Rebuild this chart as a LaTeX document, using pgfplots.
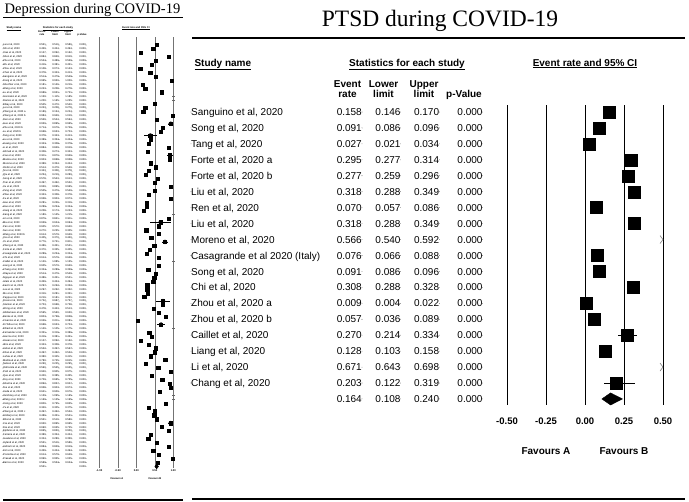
\documentclass[border=0pt]{standalone}
\usepackage{fontspec}
\setmainfont{Liberation Sans}
\newfontfamily\titlefont{Liberation Serif}
\usepackage{pgfplots}
\usepackage{pgfplotstable}
\pgfplotsset{compat=1.18}

% open chevron for studies off the right end of the scale
\pgfdeclareplotmark{chev}{%
  \pgfpathmoveto{\pgfqpoint{-3bp}{4bp}}%
  \pgfpathlineto{\pgfqpoint{0bp}{0bp}}%
  \pgfpathlineto{\pgfqpoint{-3bp}{-4bp}}%
  \pgfusepathqstroke}

\pgfplotstableread[col sep=semicolon]{
name;rate;lo;hi
Sanguino et al, 2020;0.158;0.146;0.170
Song et al, 2020;0.091;0.086;0.096
Tang et al, 2020;0.027;0.021;0.034
Forte et al, 2020 a;0.295;0.277;0.314
Forte et al,  2020 b;0.277;0.259;0.296
Liu et al,  2020;0.318;0.288;0.349
Ren et al, 2020;0.070;0.057;0.086
Liu et al, 2020;0.318;0.288;0.349
Moreno et al, 2020;0.566;0.540;0.592
Casagrande et al 2020 (Italy);0.076;0.066;0.088
Song et al, 2020;0.091;0.086;0.096
Chi et al, 2020;0.308;0.288;0.328
Zhou et al, 2020 a;0.009;0.004;0.022
Zhou et al, 2020 b;0.057;0.036;0.089
Caillet et al, 2020;0.270;0.214;0.334
Liang et al, 2020;0.128;0.103;0.158
Li et al, 2020;0.671;0.643;0.698
Chang et al, 2020;0.203;0.122;0.319
Summary;0.164;0.108;0.240
}\ptsd

\pgfplotstableread[col sep=semicolon]{
name;v
Lai et al, 2020;0.551
Shi et al, 2020;0.459
Xiao et al, 2020;0.127
Shen et al, 2020;0.884
Zhu et al, 2020;0.524
Wu et al, 2020;0.416
Zhou et al, 2020;0.108
Chen et al, 2020;0.378
Sanguino et al, 2020;0.514
Dong et al, 2020;0.965
Shechter et al, 2020;0.181
Wang et al, 2020;0.243
Lu et al, 2020;0.686
Gonzalez et al, 2020;1.150
Ramos et al, 2020;1.200
Elbay et al, 2020;0.505
Lei et al, 2020;0.243
Zhang et al, 2020 a;0.189
Zhang et al, 2020 b;0.984
Ren et al, 2020;0.559
Guo et al, 2020;0.930
Zhu et al, 2020 b;0.714
Lu et al, 2020 b;0.668
Tang et al, 2020;0.378
Liu et al, 2020;0.389
Huang et al, 2020;0.343
Li et al, 2020;0.884
Ahmed et al, 2020;0.308
Cao et al, 2020;0.911
Mazza et al, 2020;0.903
Moreno et al, 2020;0.389
Ozdin et al, 2020;0.514
Ni et al, 2020;0.343
Qiu et al, 2020;0.254
Song et al, 2020;0.578
Tian et al, 2020;0.497
Xu et al, 2020;0.930
Yang et al, 2020;0.505
Zhao et al, 2020;0.343
Fu et al, 2020;0.938
Gao et al, 2020;0.281
Hao et al, 2020;0.289
Jiang et al, 2020;0.208
Kang et al, 2020;1.180
Lin et al, 2020;0.876
Ma et al, 2020;0.659
Pan et al, 2020;0.605
Sun et al, 2020;0.270
Wang et al, 2020 b;0.614
Xie et al, 2020;0.405
Ye et al, 2020;0.776
Zheng et al, 2020;0.486
Forte et al, 2020;0.370
Casagrande et al, 2020;0.289
Chi et al, 2020;0.614
Caillet et al, 2020;1.120
Liang et al, 2020;0.605
Chang et al, 2020;0.324
Olaya et al, 2020;0.514
Nguyen et al, 2020;0.486
Islam et al, 2020;0.459
Kazmi et al, 2020;0.297
Lee et al, 2020;0.297
Mo et al, 2020;0.316
Pappa et al, 2020;0.216
Rossi et al, 2020;0.722
Stanton et al, 2020;0.703
Wong et al, 2020;0.478
Alkhamees et al, 2020;0.595
Benke et al, 2020;0.803
Civantos et al, 2020;0.046
Di Tella et al, 2020;0.668
Elhadi et al, 2020;1.140
Fernandez et al, 2020;0.351
Garcia et al, 2020;0.416
Hasan et al, 2020;0.127
Idris et al, 2020;0.343
Jahan et al, 2020;0.532
Khan et al, 2020;0.497
Lahav et al, 2020;0.380
Mahmud et al, 2020;0.780
Nelson et al, 2020;0.260
Odriozola et al, 2020;0.590
Pieh et al, 2020;0.940
Que et al, 2020;0.420
Roy et al, 2020;0.700
Sharma et al, 2020;0.892
Tee et al, 2020;0.938
Ueda et al, 2020;0.641
Varshney et al, 2020;1.130
Wang et al, 2020 c;1.160
Xiong et al, 2020;0.800
Yu et al, 2020;0.340
Zhang et al, 2020 c;0.497
Alsharji et al, 2020;0.486
Bhat et al, 2020;0.551
Cai et al, 2020;0.930
Dai et al, 2020;0.690
Epifanio et al, 2020;0.865
Ferreira et al, 2020;0.389
Gualano et al, 2020;0.324
Hyland et al, 2020;0.551
Jahrami et al, 2020;0.884
Kim et al, 2020;0.459
Pisciotta et al, 2020;0.614
Prasad et al, 2020;0.990
Barros et al, 2020;0.589
}\dep

\pgfplotsset{
  txt/.style={only marks, mark=*, mark size=0.01pt, mark options={draw=none,fill=none},
    every node near coord/.append style={inner sep=0pt, text depth=0pt}},
  bigtxt/.style={txt, every node near coord/.append style={font=\fontsize{10bp}{12bp}\selectfont, text height=7.2bp}},
  smalltxt/.style={txt, every node near coord/.append style={font=\fontsize{2.6bp}{3bp}\selectfont, text height=1.9bp}},
}
\newcommand{\hdr}{\bfseries\fontsize{10bp}{12bp}\selectfont}
\newcommand{\mini}{\fontsize{2.6bp}{3.2bp}\selectfont}

\begin{document}
\begin{tikzpicture}
\path[use as bounding box] (0,0) rectangle (689bp,-502bp);

%---------------- small panel: depression ----------------
\node[anchor=base, font=\titlefont\fontsize{14.5bp}{16bp}\selectfont] at (92.5bp,-13bp) {Depression during COVID-19};
\draw[line width=0.9bp] (3bp,-17bp) -- (183bp,-17bp);
\draw[line width=1.5bp] (3bp,-500bp) -- (183bp,-500bp);
\node[anchor=base west, font=\mini\bfseries] at (3bp,-28bp) {\underline{Study name}};
\node[anchor=base, font=\mini\bfseries] at (58bp,-28bp) {\underline{Statistics for each study}};
\node[anchor=base, font=\mini\bfseries] at (136bp,-28bp) {\underline{Event rate and 95\% CI}};
\foreach \xx/\aa/\bb in {42/Event/rate, 55/Lower/limit, 68/Upper/limit} {
  \node[anchor=base, font=\mini\bfseries] at (\xx bp,-32bp) {\aa};
  \node[anchor=base, font=\mini\bfseries] at (\xx bp,-35.5bp) {\bb};
}
\node[anchor=base, font=\mini\bfseries] at (82bp,-35.5bp) {p-Value};
\node[font=\mini\bfseries] at (117bp,-479bp) {Favours A};
\node[font=\mini\bfseries] at (155bp,-479bp) {Favours B};

\begin{axis}[
  at={(99.3bp,-468bp)}, anchor=south west,
  scale only axis, width=74bp, height=431bp,
  xmin=-1, xmax=1, ymin=-2.03, ymax=107.4, y dir=reverse,
  clip=false, axis line style={draw=none},
  ytick=\empty, xtick={-1,-0.5,0,0.5,1},
  xticklabels={-1.00,-0.50,0.00,0.50,1.00},
  xmajorgrids, grid style={black!55, line width=0.4bp},
  major tick length=0pt,
  xticklabel style={font=\mini\bfseries, anchor=north, inner sep=0pt, yshift=-1.5bp},
  /pgf/number format/assume math mode=true,
]
\addplot[smalltxt, point meta=explicit symbolic, nodes near coords={\pgfplotspointmeta},
  every node near coord/.append style={anchor=west}]
  table[x expr=-3.603, y expr=\coordindex, meta=name] {\dep};
\addplot[smalltxt, point meta=explicit symbolic, nodes near coords={\pgfplotspointmeta},
  every node near coord/.append style={anchor=east}]
  table[x expr=-2.441, y expr=\coordindex, meta=v] {\dep};
\addplot[smalltxt, point meta={\thisrow{v}-0.035},
  nodes near coords={\pgfmathprintnumber[fixed,zerofill,precision=3,assume math mode=true]{\pgfplotspointmeta}},
  every node near coord/.append style={anchor=east}]
  table[x expr=-2.089, y expr=\coordindex] {\dep};
\addplot[smalltxt, point meta={\thisrow{v}+0.035},
  nodes near coords={\pgfmathprintnumber[fixed,zerofill,precision=3,assume math mode=true]{\pgfplotspointmeta}},
  every node near coord/.append style={anchor=east}]
  table[x expr=-1.738, y expr=\coordindex] {\dep};
\addplot[smalltxt, nodes near coords={0.000},
  every node near coord/.append style={anchor=east}]
  table[x expr=-1.359, y expr=\coordindex] {\dep};
\addplot[smalltxt, point meta=explicit symbolic, nodes near coords={\pgfplotspointmeta},
  every node near coord/.append style={anchor=east}]
  coordinates {(-2.441,107) [0.551] (-1.359,107) [0.000]};
% confidence intervals that stick out of the squares
\addplot[only marks, mark=none, error bars/.cd, x dir=both, x explicit, error mark=none,
  error bar style={draw=black, line width=0.4bp}]
  coordinates {(0.930,20) +- (0.07,0) (0.378,23) +- (0.18,0) (0.911,28) +- (0.09,0)
               (0.659,45) +- (0.29,0) (0.776,50) +- (0.09,0) (0.722,65) +- (0.2,0)
               (0.668,71) +- (0.11,0) (0.930,96) +- (0.07,0)};
\addplot[only marks, mark=square*, mark size=1.6bp, black, restrict x to domain=-1:1]
  table[x=v, y expr=\coordindex] {\dep};
\addplot[only marks, mark=-, mark size=1.5bp, black!60, mark options={line width=0.4bp},
  restrict expr to domain={\thisrow{v}}{1.0001:9}]
  table[x expr=1, y expr=\coordindex] {\dep};
\addplot[fill=black, draw=black] coordinates {(0.50,107) (0.551,106.4) (0.60,107) (0.551,107.6)} -- cycle;
\end{axis}

%---------------- main panel: PTSD ----------------
\node[anchor=base, font=\titlefont\fontsize{23.5bp}{26bp}\selectfont] at (440bp,-26bp) {PTSD during COVID-19};
\draw[line width=1.5bp] (192bp,-38bp) -- (685bp,-38bp);
\draw[line width=2bp] (192bp,-499bp) -- (685bp,-499bp);
\node[anchor=base west, font=\hdr] at (191bp,-66bp) {\underline{Study name}};
\node[anchor=base, font=\hdr] at (407bp,-66bp) {\underline{Statistics for each study}};
\node[anchor=base, font=\hdr] at (585bp,-66bp) {\underline{Event rate and 95\% CI}};
\foreach \xx/\aa/\bb in {347.5/Event/rate, 383.5/Lower/limit, 424/Upper/limit} {
  \node[anchor=base, font=\hdr] at (\xx bp,-87bp) {\aa};
  \node[anchor=base, font=\hdr] at (\xx bp,-97bp) {\bb};
}
\node[anchor=base, font=\hdr] at (464bp,-97bp) {p-Value};
\node[font=\hdr] at (546bp,-451bp) {Favours A};
\node[font=\hdr] at (624bp,-451bp) {Favours B};

\begin{axis}[
  at={(507bp,-405bp)}, anchor=south west,
  scale only axis, width=156bp, height=300bp,
  xmin=-0.5, xmax=0.5, ymin=-0.44, ymax=18.38, y dir=reverse,
  clip=false, axis line style={draw=none},
  ytick=\empty, xtick={-0.5,-0.25,0,0.25,0.5},
  xticklabels={-0.50,-0.25,0.00,0.25,0.50},
  xmajorgrids, grid style={black, line width=0.9bp},
  major tick length=0pt,
  xticklabel style={font=\bfseries\fontsize{9.5bp}{11bp}\selectfont, anchor=north,
    inner sep=0pt, yshift=-13bp},
]
\addplot[bigtxt, point meta=explicit symbolic, nodes near coords={\pgfplotspointmeta},
  every node near coord/.append style={anchor=west}, restrict y to domain=0:17]
  table[x expr=-2.5256, y expr=\coordindex, meta=name] {\ptsd};
\addplot[bigtxt, point meta=explicit symbolic, nodes near coords={\pgfplotspointmeta},
  every node near coord/.append style={anchor=east}]
  table[x expr=-1.4295, y expr=\coordindex, meta=rate] {\ptsd};
\addplot[bigtxt, point meta=explicit symbolic, nodes near coords={\pgfplotspointmeta},
  every node near coord/.append style={anchor=east}]
  table[x expr=-1.1814, y expr=\coordindex, meta=lo] {\ptsd};
\addplot[bigtxt, point meta=explicit symbolic, nodes near coords={\pgfplotspointmeta},
  every node near coord/.append style={anchor=east}]
  table[x expr=-0.934, y expr=\coordindex, meta=hi] {\ptsd};
\addplot[bigtxt, nodes near coords={0.000},
  every node near coord/.append style={anchor=east}]
  table[x expr=-0.6558, y expr=\coordindex] {\ptsd};
% confidence intervals
\addplot[only marks, mark=none, restrict y to domain=0:17, restrict x to domain=-1:0.5,
  error bars/.cd, x dir=both, x explicit, error mark=none,
  error bar style={draw=black, line width=0.8bp}]
  table[x=rate, y expr=\coordindex,
        x error plus expr=\thisrow{hi}-\thisrow{rate},
        x error minus expr=\thisrow{rate}-\thisrow{lo}] {\ptsd};
\addplot[only marks, mark=square*, mark size=6bp, black,
  restrict y to domain=0:17, restrict x to domain=-1:0.5]
  table[x=rate, y expr=\coordindex] {\ptsd};
\addplot[only marks, mark=chev, black!50, mark options={line width=0.6bp},
  restrict expr to domain={\thisrow{rate}}{0.5:1}]
  table[x expr=0.5, y expr=\coordindex] {\ptsd};
\addplot[fill=black, draw=black] coordinates {(0.108,18) (0.164,17.62) (0.240,18) (0.164,18.38)} -- cycle;
\end{axis}
\end{tikzpicture}
\end{document}
